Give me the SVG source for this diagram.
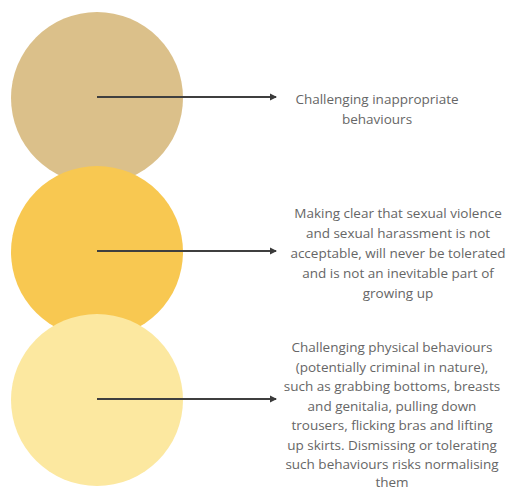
<svg xmlns="http://www.w3.org/2000/svg" width="512" height="491" viewBox="0 0 512 491">
<defs>
<marker id="ah" markerWidth="8" markerHeight="8" refX="6" refY="4" orient="auto" markerUnits="userSpaceOnUse">
<path d="M0,0.5 L7,4 L0,7.5 Z" fill="#3a3a3a"/>
</marker>
<style>
.lbl{font-family:"Open Sans","Liberation Sans",sans-serif;font-size:13.5px;fill:#666666;text-anchor:middle}
.conn{stroke:#3f3f3f;stroke-width:2;fill:none}
</style>
</defs>
<rect width="512" height="491" fill="#ffffff"/>
<g id="node1"><circle cx="97" cy="98" r="86" fill="#DBC08A"/></g>
<g id="node2"><circle cx="97" cy="252" r="86" fill="#F8C851"/></g>
<g id="node3"><circle cx="97" cy="400" r="86" fill="#FCE8A0"/></g>
<g id="connectors">
<line class="conn" x1="97" y1="97" x2="276" y2="97" marker-end="url(#ah)"/>
<line class="conn" x1="97" y1="251" x2="276" y2="251" marker-end="url(#ah)"/>
<line class="conn" x1="97" y1="399" x2="276" y2="399" marker-end="url(#ah)"/>
</g>
<g id="label1">
<text class="lbl" x="377" y="104">Challenging inappropriate</text>
<text class="lbl" x="377" y="124">behaviours</text>
</g>
<g id="label2">
<text class="lbl" x="398" y="218">Making clear that sexual violence</text>
<text class="lbl" x="398" y="238">and sexual harassment is not</text>
<text class="lbl" x="398" y="258">acceptable, will never be tolerated</text>
<text class="lbl" x="398" y="278">and is not an inevitable part of</text>
<text class="lbl" x="398" y="298">growing up</text>
</g>
<g id="label3">
<text class="lbl" x="392" y="352">Challenging physical behaviours</text>
<text class="lbl" x="392" y="371.5">(potentially criminal in nature),</text>
<text class="lbl" x="392" y="391">such as grabbing bottoms, breasts</text>
<text class="lbl" x="392" y="410.5">and genitalia, pulling down</text>
<text class="lbl" x="392" y="430">trousers, flicking bras and lifting</text>
<text class="lbl" x="392" y="449.5">up skirts. Dismissing or tolerating</text>
<text class="lbl" x="392" y="469">such behaviours risks normalising</text>
<text class="lbl" x="392" y="487">them</text>
</g>
</svg>
